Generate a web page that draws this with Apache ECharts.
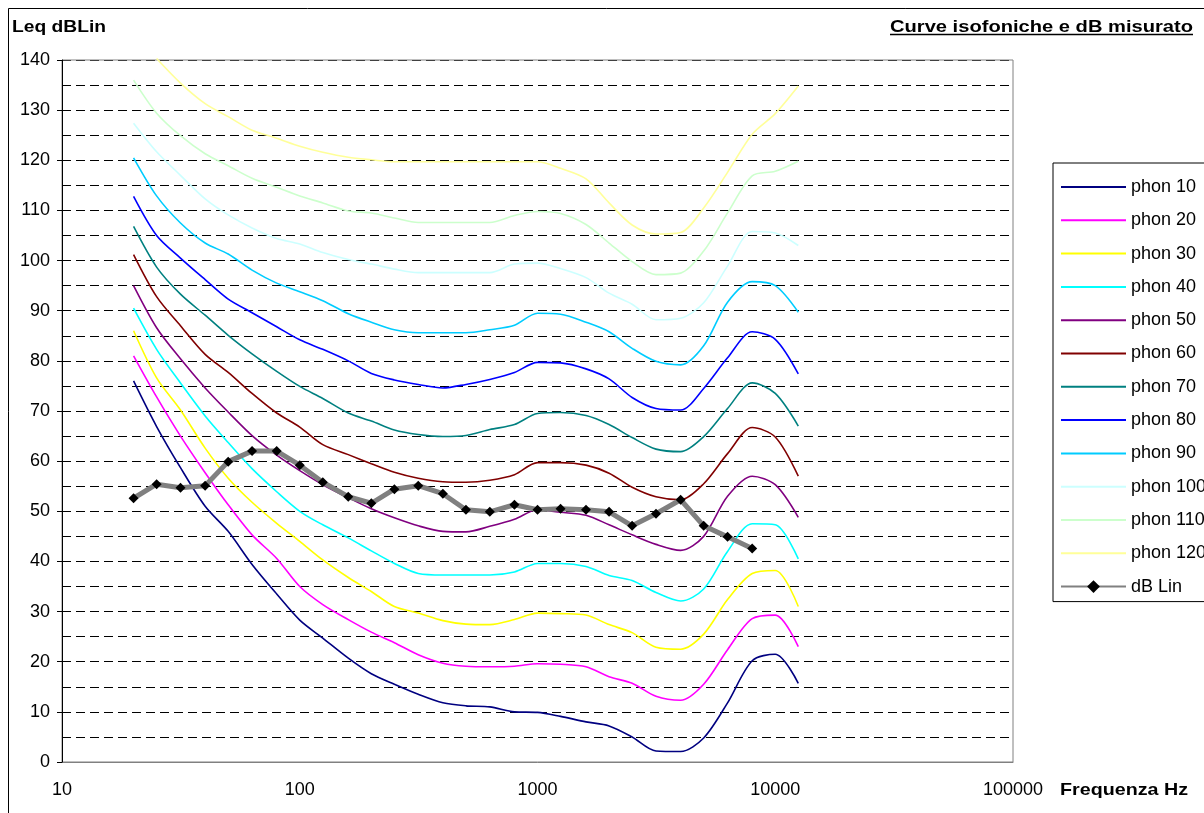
<!DOCTYPE html>
<html>
<head>
<meta charset="utf-8">
<script src="https://cdn.jsdelivr.net/npm/echarts@6/dist/echarts.min.js"></script>
<style>html,body{margin:0;padding:0;background:#fff}#chart{width:1204px;height:813px}</style>
</head>
<body>
<div id="chart"></div>
<script>
// ---- data ----
const freqs = [20, 25, 31.5, 40, 50, 63, 80, 100, 125, 160, 200, 250, 315, 400, 500, 630, 800, 1000, 1250, 1600, 2000, 2500, 3150, 4000, 5000, 6300, 8000, 10000, 12500];
const phon10  = [76, 66.9, 58.7, 51, 46, 39.4, 33.5, 28.3, 24.7, 20.7, 17.6, 15.5, 13.5, 11.8, 11.2, 11, 10, 9.9, 9.1, 8, 7.2, 5, 2.2, 2.1, 4.8, 11.8, 20.2, 21.5, 15.7];
const phon20  = [81, 72.8, 65, 57.7, 51.3, 45.3, 40.6, 35, 31.4, 28.4, 25.9, 23.8, 21.4, 19.7, 19.1, 19, 19.1, 19.6, 19.5, 19, 17, 15.7, 13.1, 12.3, 15.5, 22.4, 28.6, 29.3, 23];
const phon30  = [86, 76.6, 70.2, 62.6, 56.6, 51.8, 47.6, 44, 40.3, 36.8, 34, 31, 29.7, 28.2, 27.5, 27.4, 28.4, 29.7, 29.6, 29.3, 27.4, 25.8, 22.9, 22.5, 25.5, 32.4, 37.6, 38.2, 31];
const phon40  = [90.5, 82.3, 75.6, 69, 63.7, 58.5, 53.9, 50, 47.3, 44.7, 42.1, 39.6, 37.6, 37.3, 37.3, 37.3, 37.9, 39.6, 39.6, 39, 37.2, 36.2, 33.8, 32.1, 34.5, 42, 47.5, 47.3, 40.5];
const phon50  = [95, 86.6, 80.4, 74.6, 69.8, 65.1, 61.2, 58.1, 55.3, 52.7, 50.5, 48.7, 47.1, 46, 45.9, 47, 48.4, 50.3, 49.8, 49.2, 47.3, 45.3, 43.4, 42.2, 45, 53, 57, 55.3, 48.8];
const phon60  = [101.2, 92.8, 87, 81.3, 77.7, 73.5, 69.6, 66.8, 63.3, 61.3, 59.5, 57.8, 56.6, 55.9, 55.8, 56.2, 57.3, 59.7, 59.7, 59.2, 57.6, 54.8, 52.9, 52.3, 55.5, 61.5, 66.7, 64.8, 57];
const phon70  = [106.8, 98.7, 93.3, 89.1, 85.1, 81.4, 77.9, 74.9, 72.5, 69.6, 68, 66.2, 65.3, 64.9, 65.1, 66.3, 67.3, 69.5, 69.7, 69.1, 67.3, 64.7, 62.4, 61.9, 64.9, 70.5, 75.6, 73.5, 67];
const phon80  = [112.8, 105, 100.5, 96.2, 92.3, 89.6, 86.8, 84.2, 82.3, 80, 77.5, 76.2, 75.3, 74.6, 75.3, 76.3, 77.7, 79.7, 79.6, 78.4, 76.4, 72.7, 70.5, 70.2, 74.5, 80.6, 85.8, 84.3, 77.4];
const phon90  = [120.5, 112.9, 107.5, 103.5, 101.3, 98.1, 95.5, 93.8, 92, 89.4, 87.7, 86.2, 85.6, 85.6, 85.6, 86.2, 87.1, 89.5, 89.3, 87.7, 85.8, 82.5, 79.9, 79.2, 83, 91.7, 95.8, 95, 89.7];
const phon100 = [127.4, 121.7, 117, 112.3, 109.1, 106.5, 104.4, 103.3, 101.6, 100.2, 99.3, 98.3, 97.6, 97.6, 97.6, 97.6, 99.3, 99.5, 98.4, 96.6, 93.5, 91.3, 88.2, 88.5, 91.6, 98.9, 105.8, 105.5, 103];
const phon110 = [136, 129.4, 124.9, 121.3, 118.9, 116.4, 114.6, 112.9, 111.5, 109.9, 109.5, 108.5, 107.6, 107.6, 107.6, 107.6, 109, 109.8, 109.4, 107.2, 103.5, 99.8, 97.2, 97.5, 101.9, 109.5, 116.9, 117.8, 119.8];
const phon120 = [null, 140.3, 135.4, 131.3, 128.7, 126, 124.4, 122.8, 121.6, 120.6, 120.1, 119.7, 119.7, 119.7, 119.7, 119.7, 119.7, 119.7, 118.4, 116.3, 111.5, 107.1, 105.3, 105.6, 110.5, 117.6, 125.2, 129.3, 134.8];

const dbLinFreqs = [20, 25, 31.5, 40, 50, 63, 80, 100, 125, 160, 200, 250, 315, 400, 500, 630, 800, 1000, 1250, 1600, 2000, 2500, 3150, 4000, 5000, 6300, 8000];
const dbLin = [52.6, 55.4, 54.7, 55.1, 59.9, 62.0, 62.0, 59.2, 55.8, 52.9, 51.6, 54.4, 55.1, 53.5, 50.3, 49.9, 51.3, 50.3, 50.5, 50.3, 49.9, 47.1, 49.5, 52.3, 47.1, 44.9, 42.6];

const phonNames = ['phon 10', 'phon 20', 'phon 30', 'phon 40', 'phon 50', 'phon 60', 'phon 70', 'phon 80', 'phon 90', 'phon 100', 'phon 110', 'phon 120'];
const phonValues = [phon10, phon20, phon30, phon40, phon50, phon60, phon70, phon80, phon90, phon100, phon110, phon120];
const dbLinName = 'dB Lin';
const xTicks = [10, 100, 1000, 10000, 100000];
const yMin = 0, yMax = 140;

const titleText = 'Curve isofoniche e dB misurato';
const yTitle = 'Leq dBLin';
const xTitle = 'Frequenza Hz';

// ---- styles ----
const phonColors = ['#000080', '#FF00FF', '#FFFF00', '#00FFFF', '#800080', '#800000', '#008080', '#0000FF', '#00CCFF', '#CCFFFF', '#CCFFCC', '#FFFF99'];
const FONT = 'Arial, "Liberation Sans", sans-serif';
const BOLD = 'bold 17px ' + FONT;

function pairs(xs, ys) {
  const out = [];
  xs.forEach((x, i) => { if (ys[i] !== null && ys[i] !== undefined) out.push([x, ys[i]]); });
  return out;
}

const series = phonNames.map((name, k) => ({
  name: name,
  type: 'line',
  data: pairs(freqs, phonValues[k]),
  symbol: 'none',
  smooth: 0.3,
  clip: k !== 11,
  z: 2,
  lineStyle: { color: phonColors[k], width: 1.6 },
  itemStyle: { color: phonColors[k] }
}));
series.push({
  name: dbLinName,
  type: 'line',
  data: pairs(dbLinFreqs, dbLin),
  symbol: 'diamond',
  symbolSize: 10,
  z: 4,
  lineStyle: { color: '#808080', width: 5 },
  itemStyle: { color: '#000000' }
});

// text widths, to stretch the bold labels like the reference's wide rendering
const ctx = document.createElement('canvas').getContext('2d');
ctx.font = BOLD;
function stretch(text, target) { return target / ctx.measureText(text).width; }
const titleRight = 1193;
const titleWidth = 303;

const legendData = phonNames.map(n => ({ name: n, itemStyle: { opacity: 0 } }));
legendData.push({ name: dbLinName });

const chart = echarts.init(document.getElementById('chart'), null, { renderer: 'canvas' });
chart.setOption({
  animation: false,
  backgroundColor: '#ffffff',
  grid: { left: 62, top: 60, width: 951, height: 702, show: true, borderColor: '#808080', borderWidth: 1, z: 1, backgroundColor: 'transparent' },
  xAxis: {
    type: 'log', logBase: 10, min: xTicks[0], max: xTicks[xTicks.length - 1],
    axisLine: { show: true, lineStyle: { color: '#808080', width: 1 } },
    axisTick: { show: false },
    minorTick: { show: false },
    splitLine: { show: false },
    axisLabel: { color: '#000', fontFamily: FONT, fontSize: 18, margin: 19, formatter: v => String(Math.round(v)) }
  },
  yAxis: [
    {
      type: 'value', min: yMin, max: yMax, interval: 10, z: 3,
      axisLine: { show: true, lineStyle: { color: '#000', width: 1 } },
      axisTick: { show: true, length: 5, lineStyle: { color: '#000' } },
      splitLine: { show: false },
      axisLabel: { color: '#000', fontFamily: FONT, fontSize: 18, margin: 12 }
    },
    {
      type: 'value', min: yMin, max: yMax, interval: 5, position: 'left', z: 0,
      axisLine: { show: false }, axisTick: { show: false }, axisLabel: { show: false },
      splitLine: { show: true, lineStyle: { color: '#000', width: 1, type: [9, 5] } }
    }
  ],
  legend: {
    orient: 'vertical', left: 1053, top: 163,
    itemWidth: 65, itemHeight: 16, itemGap: 15.3,
    padding: [15, 140, 6, 7],
    borderColor: '#000', borderWidth: 1,
    selectedMode: false,
    textStyle: { color: '#000', fontFamily: FONT, fontSize: 18 },
    data: legendData
  },
  graphic: [
    { type: 'rect', z: 10, silent: true, shape: { x: 8.5, y: 8.5, width: 1400, height: 1000 }, style: { fill: 'none', stroke: '#000', lineWidth: 1 } },
    { type: 'text', z: 10, x: 12, y: 27, scaleX: stretch(yTitle, 94), style: { text: yTitle, font: BOLD, fill: '#000', textAlign: 'left', textVerticalAlign: 'middle' } },
    { type: 'text', z: 10, x: titleRight, y: 27, scaleX: stretch(titleText, titleWidth), style: { text: titleText, font: BOLD, fill: '#000', textAlign: 'right', textVerticalAlign: 'middle' } },
    { type: 'line', z: 10, shape: { x1: titleRight - titleWidth, y1: 34.5, x2: titleRight, y2: 34.5 }, style: { stroke: '#000', lineWidth: 1.5 } },
    { type: 'text', z: 10, x: 1060, y: 790, scaleX: stretch(xTitle, 128), style: { text: xTitle, font: BOLD, fill: '#000', textAlign: 'left', textVerticalAlign: 'middle' } }
  ],
  series: series
});
</script>
</body>
</html>
